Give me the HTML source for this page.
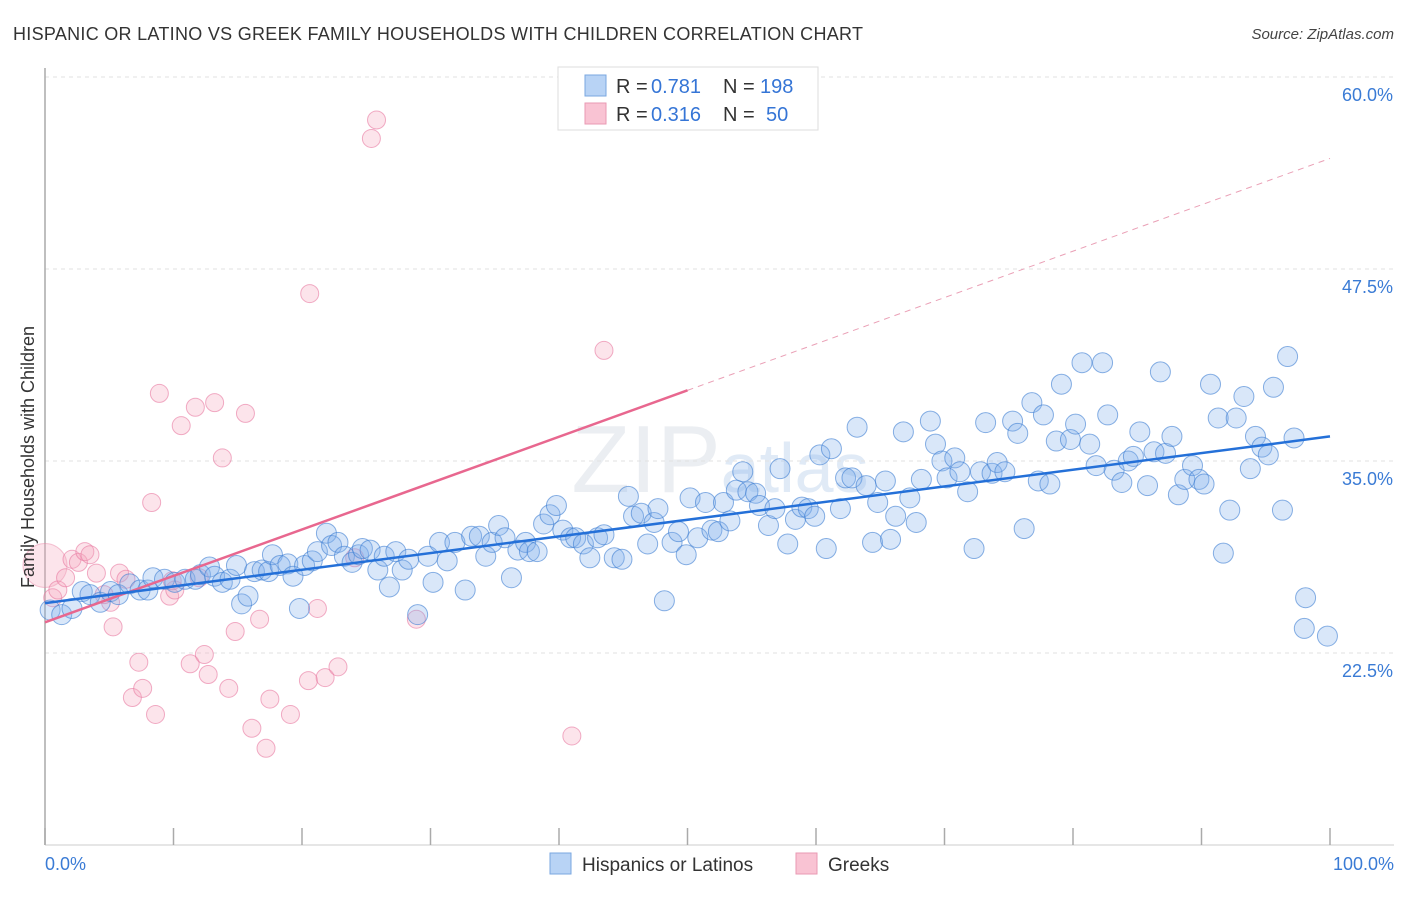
<!DOCTYPE html>
<html><head><meta charset="utf-8"><style>
body{margin:0;background:#fff;font-family:"Liberation Sans",sans-serif;}
svg text{font-family:"Liberation Sans",sans-serif;}
</style></head><body>
<svg id="chart" width="1406" height="892" xmlns="http://www.w3.org/2000/svg">
<text x="13" y="40" font-size="18" fill="#333" textLength="850">HISPANIC OR LATINO VS GREEK FAMILY HOUSEHOLDS WITH CHILDREN CORRELATION CHART</text>
<text x="1394" y="39" font-size="15" fill="#444" text-anchor="end" font-style="italic">Source: ZipAtlas.com</text>
<text x="720" y="492" font-size="96" fill="#ebeef2" text-anchor="middle" font-family="Liberation Serif">ZIP<tspan font-size="70" font-family="Liberation Sans" fill="#e0eaf6">atlas</tspan></text>
<g id="grid"></g><g id="axes"></g><g id="pink"></g><g id="blue"></g><g id="lines"></g>
<text transform="translate(34,457) rotate(-90)" font-size="18" fill="#333" text-anchor="middle">Family Households with Children</text>
<g>
<rect x="558" y="67" width="260" height="63" fill="#fff" stroke="#ddd"/>
<rect x="585" y="75" width="21" height="21" fill="#b8d3f5" stroke="#7aa7e0"/>
<rect x="585" y="103" width="21" height="21" fill="#f9c3d3" stroke="#e99ab3"/>
<text x="616" y="93" font-size="20" fill="#333">R =</text>
<text x="651" y="93" font-size="20" fill="#3575d6">0.781</text>
<text x="723" y="93" font-size="20" fill="#333">N =</text>
<text x="760" y="93" font-size="20" fill="#3575d6">198</text>
<text x="616" y="121" font-size="20" fill="#333">R =</text>
<text x="651" y="121" font-size="20" fill="#3575d6">0.316</text>
<text x="723" y="121" font-size="20" fill="#333">N =</text>
<text x="766" y="121" font-size="20" fill="#3575d6">50</text>
</g>
<g>
<rect x="550" y="853" width="21" height="21" fill="#b8d3f5" stroke="#7aa7e0"/>
<text x="582" y="871" font-size="19" fill="#333">Hispanics or Latinos</text>
<rect x="796" y="853" width="21" height="21" fill="#f9c3d3" stroke="#e99ab3"/>
<text x="828" y="871" font-size="19" fill="#333">Greeks</text>
</g>
</svg>
<script>
const yTicks=[22.5,35.0,47.5,60.0];
const yTickLabels=["22.5%","35.0%","47.5%","60.0%"];
const xTicks=[0,10,20,30,40,50,60,70,80,90,100];
const blueX=[0.4,1.3,2.1,2.9,3.5,4.3,5.1,5.7,6.6,7.4,8.0,8.4,9.3,10.1,10.9,11.7,12.1,12.8,13.2,13.8,14.4,14.9,15.3,15.8,16.3,16.9,17.4,17.7,18.3,18.9,19.3,19.8,20.2,20.8,21.2,21.9,22.3,22.8,23.3,23.9,24.4,24.7,25.3,25.9,26.4,26.8,27.3,27.8,28.3,29.0,29.8,30.2,30.7,31.3,31.9,32.7,33.2,33.8,34.3,34.8,35.3,35.8,36.3,36.8,37.4,37.7,38.3,38.8,39.3,39.8,40.3,40.9,41.3,41.9,42.4,43.0,43.5,44.3,44.9,45.4,45.8,46.4,46.9,47.4,47.7,48.2,48.8,49.3,49.9,50.2,50.8,51.4,51.9,52.4,52.8,53.3,53.8,54.3,54.7,55.3,55.6,56.3,56.8,57.2,57.8,58.4,58.9,59.4,59.9,60.3,60.8,61.2,61.9,62.3,62.8,63.2,63.9,64.4,64.8,65.4,65.8,66.2,66.8,67.3,67.8,68.2,68.9,69.3,69.8,70.2,70.8,71.2,71.8,72.3,72.8,73.2,73.7,74.1,74.7,75.3,75.7,76.2,76.8,77.3,77.7,78.2,78.7,79.1,79.8,80.2,80.7,81.3,81.8,82.3,82.7,83.2,83.8,84.3,84.7,85.2,85.8,86.3,86.8,87.2,87.7,88.2,88.7,89.3,89.8,90.2,90.7,91.3,91.7,92.2,92.7,93.3,93.8,94.2,94.7,95.2,95.6,96.3,96.7,97.2,98.0,98.1,99.8];
const blueY=[25.3,25.0,25.4,26.5,26.3,25.8,26.5,26.3,27.0,26.6,26.6,27.4,27.3,27.1,27.3,27.3,27.6,28.1,27.5,27.1,27.3,28.2,25.7,26.2,27.8,27.9,27.8,28.9,28.2,28.3,27.5,25.4,28.2,28.5,29.1,30.3,29.5,29.7,28.8,28.4,28.9,29.3,29.2,27.9,28.8,26.8,29.1,27.9,28.6,25.0,28.8,27.1,29.7,28.5,29.7,26.6,30.1,30.1,28.8,29.7,30.8,30.0,27.4,29.2,29.7,29.1,29.1,30.9,31.5,32.1,30.5,30.0,30.0,29.6,28.7,30.0,30.2,28.7,28.6,32.7,31.4,31.6,29.6,31.0,31.9,25.9,29.7,30.4,28.9,32.6,30.0,32.3,30.5,30.4,32.3,31.1,33.1,34.3,33.0,32.9,32.1,30.8,31.9,34.5,29.6,31.2,32.0,31.9,31.4,35.4,29.3,35.8,31.9,33.9,33.9,37.2,33.4,29.7,32.3,33.7,29.9,31.4,36.9,32.6,31.0,33.8,37.6,36.1,35.0,33.9,35.2,34.3,33.0,29.3,34.3,37.5,34.2,34.9,34.3,37.6,36.8,30.6,38.8,33.7,38.0,33.5,36.3,40.0,36.4,37.4,41.4,36.1,34.7,41.4,38.0,34.4,33.6,35.0,35.3,36.9,33.4,35.6,40.8,35.5,36.6,32.8,33.8,34.7,33.8,33.5,40.0,37.8,29.0,31.8,37.8,39.2,34.5,36.6,35.9,35.4,39.8,31.8,41.8,36.5,24.1,26.1,23.6];
const pinkX=[0.6,1.0,1.6,2.1,2.6,3.1,3.5,4.0,5.3,5.8,6.3,6.8,7.3,7.6,8.3,8.6,8.9,9.7,10.1,10.6,11.3,11.7,12.4,12.7,13.2,13.8,14.3,14.8,15.6,16.1,16.7,17.2,17.5,19.1,20.6,20.5,21.2,21.8,22.8,24.1,25.4,25.8,28.9,41.0,43.5,5.1,9.9,12.0,4.6];
const pinkY=[26.1,26.6,27.4,28.6,28.4,29.1,28.9,27.7,24.2,27.7,27.3,19.6,21.9,20.2,32.3,18.5,39.4,26.2,26.6,37.3,21.8,38.5,22.4,21.1,38.8,35.2,20.2,23.9,38.1,17.6,24.7,16.3,19.5,18.5,45.9,20.7,25.4,20.9,21.6,28.7,56.0,57.2,24.7,17.1,42.2,25.8,27.2,27.4,26.3];
const bigPinkX=[0]; const bigPinkY=[28.2];
const blueFit=[25.75,36.6];
const pinkFit=[24.5,54.7];
const X0=45,X1=1330,Y10=845,PX_PER=15.36;
const sx=v=>X0+(X1-X0)*v/100;
const sy=v=>Y10-(v-10)*PX_PER;
const NS="http://www.w3.org/2000/svg";
function mk(t,a,p){const e=document.createElementNS(NS,t);for(const k in a)e.setAttribute(k,a[k]);p.appendChild(e);return e;}
const grid=document.getElementById('grid'),axes=document.getElementById('axes');
yTicks.forEach((v,i)=>{
 const l=mk('line',{x1:X0,x2:1394,y1:sy(v),y2:sy(v),stroke:'#e2e2e2','stroke-dasharray':'4,4'},grid);
 
 
 const t=mk('text',{x:1393,y:sy(v)+24,'font-size':18,fill:'#3a7bd5','text-anchor':'end'},axes);
 t.textContent=yTickLabels[i];
 
 
});
const ya=mk('line',{x1:X0,x2:X0,y1:68,y2:845,stroke:'#aaa','stroke-width':1.5},axes);


const xa=mk('line',{x1:X0,x2:1394,y1:845,y2:845,stroke:'#ccc'},axes);


xTicks.forEach(v=>{const l=mk('line',{x1:sx(v),x2:sx(v),y1:828,y2:845,stroke:'#aaa','stroke-width':1.5},axes);
 
 });
const t0=mk('text',{x:45,y:870,'font-size':18,fill:'#3a7bd5'},axes);t0.textContent='0.0%';


const t1=mk('text',{x:1394,y:870,'font-size':18,fill:'#3a7bd5','text-anchor':'end'},axes);t1.textContent='100.0%';


const pg=document.getElementById('pink'),bg=document.getElementById('blue');
bigPinkX.forEach((x,i)=>{const c=mk('circle',{cx:sx(x),cy:sy(bigPinkY[i]),r:22,fill:'rgba(245,165,190,0.3)',stroke:'rgba(232,130,165,0.45)'},pg);
 
 });
pinkX.forEach((x,i)=>{const c=mk('circle',{cx:sx(x),cy:sy(pinkY[i]),r:9,fill:'rgba(245,165,190,0.3)',stroke:'rgba(232,120,160,0.6)','stroke-width':1},pg);
 
 });
blueX.forEach((x,i)=>{const c=mk('circle',{cx:sx(x),cy:sy(blueY[i]),r:10,fill:'rgba(130,175,235,0.3)',stroke:'rgba(60,125,210,0.6)','stroke-width':1},bg);
 
 });
const lg=document.getElementById('lines');
const pAt=x=>pinkFit[0]+(pinkFit[1]-pinkFit[0])*x/100;
const pd=mk('line',{x1:sx(50),y1:sy(pAt(50)),x2:sx(100),y2:sy(pAt(100)),stroke:'#eaa0b6','stroke-width':1,'stroke-dasharray':'6,5'},lg);


const ps=mk('line',{x1:sx(0),y1:sy(pAt(0)),x2:sx(50),y2:sy(pAt(50)),stroke:'#e8678f','stroke-width':2.5},lg);


const bl=mk('line',{x1:sx(0),y1:sy(blueFit[0]),x2:sx(100),y2:sy(blueFit[1]),stroke:'#2470d8','stroke-width':2.5},lg);


</script>
</body></html>
